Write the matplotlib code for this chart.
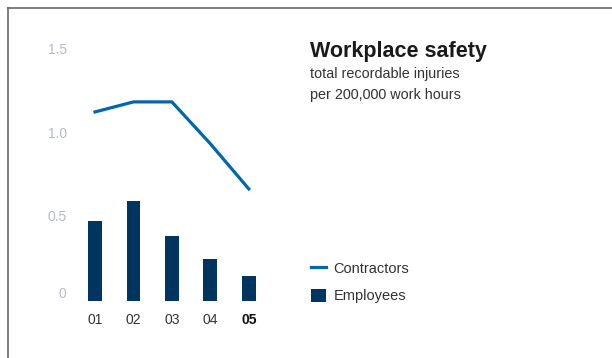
import matplotlib.pyplot as plt
from matplotlib.lines import Line2D
from matplotlib.patches import Patch

# Daten: Unfallrate je 200.000 Arbeitsstunden
years = ['01', '02', '03', '04', '05']
employees = [0.48, 0.60, 0.39, 0.25, 0.15]
contractors = [1.13, 1.19, 1.19, 0.94, 0.67]
y_ticks = [0, 0.5, 1.0, 1.5]
y_tick_labels = ['0', '0.5', '1.0', '1.5']

LINE_COLOR = '#0067ab'
BAR_COLOR = '#00355f'
GRAY = '#b3bbc4'
TEXT = '#333333'

plt.rcParams['font.family'] = ['Liberation Sans', 'DejaVu Sans']

fig = plt.figure(figsize=(6.12, 3.58), dpi=100)
ax = fig.add_axes([75 / 612, (358 - 301) / 358, (268 - 75) / 612, (301 - 33.3) / 358])

x = range(len(years))
ax.bar(x, employees, width=0.36, color=BAR_COLOR, zorder=2)
ax.plot(x, contractors, color=LINE_COLOR, lw=2.3, solid_joinstyle='miter', zorder=3)

ax.set_xlim(-0.52, 4.5)
ax.set_ylim(0, 1.6)
ax.set_yticks(y_ticks)
ax.set_yticklabels(y_tick_labels)
ax.set_xticks(list(x))
ax.set_xticklabels(years)
for s in ax.spines.values():
    s.set_visible(False)
ax.tick_params(axis='y', length=0, pad=6, labelsize=10, labelcolor=GRAY)
ax.tick_params(axis='x', length=0, pad=8.5, labelsize=10, labelcolor=TEXT)
# letztes Jahr hervorheben
ax.get_xticklabels()[-1].set_fontweight('bold')
ax.get_xticklabels()[-1].set_color('#111111')
for lbl in ax.get_yticklabels():
    lbl.set_verticalalignment('center')
ax.get_yticklabels()[0].set_verticalalignment('bottom')

# Titel und Untertitel
fig.text(310 / 612, 1 - 51 / 358, 'Workplace safety', fontsize=15.5, fontweight='bold',
         color='#1a1a1a', va='center', ha='left')
fig.text(310 / 612, 1 - 74 / 358, 'total recordable injuries', fontsize=10.4,
         color=TEXT, va='center', ha='left')
fig.text(310 / 612, 1 - 95 / 358, 'per 200,000 work hours', fontsize=10.4,
         color=TEXT, va='center', ha='left')

# Legende
handles = [Line2D([], [], color=LINE_COLOR, lw=2.3),
           Patch(facecolor=BAR_COLOR, edgecolor='none')]
fig.legend(handles, ['Contractors', 'Employees'], loc='upper left',
           bbox_to_anchor=(311 / 612, 1 - 261 / 358), frameon=False,
           fontsize=10.5, handlelength=1.0, handleheight=1.0,
           handletextpad=0.55, labelspacing=0.9, borderpad=0, borderaxespad=0,
           labelcolor=TEXT)

# Rahmen oben und links
fig.add_artist(Line2D([8 / 612, 1], [1 - 8 / 358, 1 - 8 / 358], color='#666666', lw=1.2))
fig.add_artist(Line2D([8 / 612, 8 / 612], [0, 1 - 8 / 358], color='#666666', lw=1.2))

fig.savefig('out.png', dpi=100)
